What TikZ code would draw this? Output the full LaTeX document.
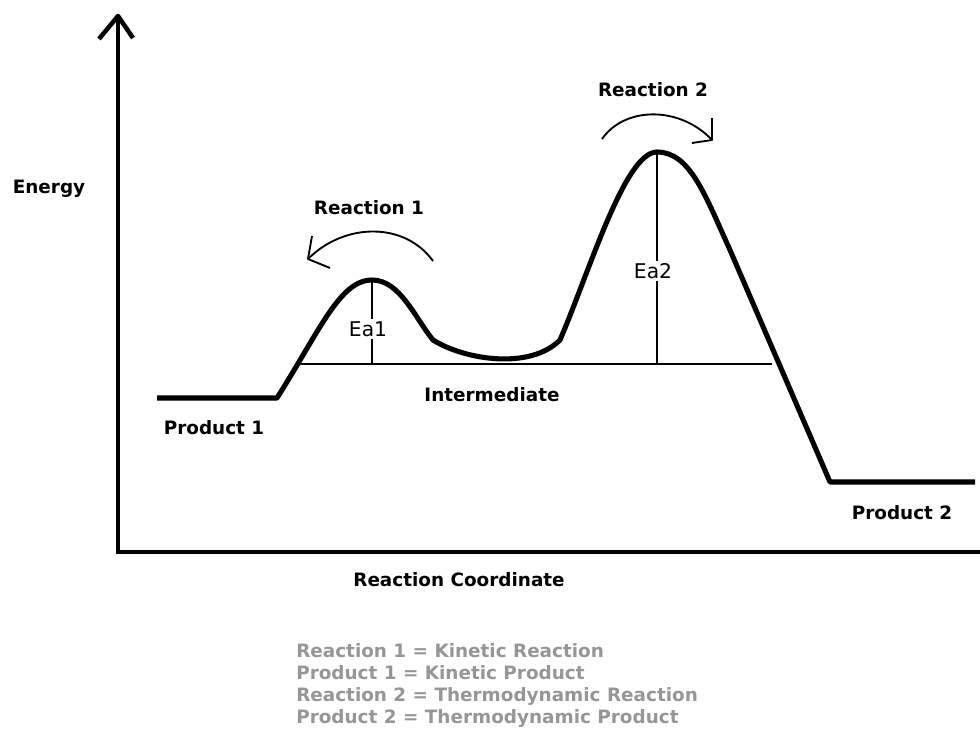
\documentclass[tikz,border=0pt]{standalone}
\usepackage{fontspec}
\setmainfont{DejaVu Sans}
\definecolor{grisleyenda}{RGB}{150,150,150}
\begin{document}
\begin{tikzpicture}[x=0.75pt,y=-0.75pt,line join=round,
	eje/.style={line width=3.4pt},
	curva/.style={line width=3.8pt},
	fina/.style={line width=1.5pt},
	flecha/.style={line width=1.4pt},
	rotulo/.style={font=\fontsize{13.8}{16}\selectfont\bfseries,inner sep=1pt},
	ea/.style={font=\fontsize{15.2}{17}\selectfont,fill=white,inner sep=1.5pt},
	leyenda/.style={rotulo,text=grisleyenda,anchor=west,text height=10pt,text depth=3pt,inner sep=0pt}]
		\useasboundingbox (0,0) rectangle (980,732);
		%Ejes
		\coordinate (origen) at (118,552);
		\coordinate (cima) at (118,16);
		\coordinate (fin) at (980,552);
		\draw[eje,line join=miter] (cima) -- (origen) -- (fin);
		\draw[eje] (99,39) -- (cima) -- (133,38);
		%Perfil
		\coordinate (p1a) at (157,398);
		\coordinate (p1b) at (277,398);
		\coordinate (ts1) at (372,280);
		\coordinate (in1) at (433,340);
		\coordinate (in2) at (560,340);
		\coordinate (ts2) at (657,152);
		\coordinate (bajada) at (730,250);
		\coordinate (p2a) at (830,482);
		\coordinate (p2b) at (975,482);
		\coordinate (base1) at (300,364);
		\coordinate (base2) at (772,364);
		\draw[fina] (base1) -- (base2);
		\draw[fina] (ts1) -- (ts1 |- base1);
		\draw[fina] (ts2) -- (ts2 |- base1);
		\draw[curva] (p1a) -- (p1b) .. controls (320,330) and (340,280) .. (ts1)
		.. controls (400,280) and (415,318) .. (in1)
		.. controls (465,360) and (530,370) .. (in2)
		.. controls (590,270) and (625,152) .. (ts2)
		.. controls (690,152) and (705,195) .. (bajada) -- (p2a) -- (p2b);
		%Flechas
		\coordinate (r1a) at (433,261);
		\coordinate (r1b) at (308,259);
		\draw[flecha] (r1a) .. controls (405,222) and (345,222) .. (r1b);
		\draw[flecha] (312,236) -- (r1b) -- (330,268);
		\coordinate (r2a) at (602,139);
		\coordinate (r2b) at (712,140);
		\draw[flecha] (r2a) .. controls (625,106) and (680,106) .. (r2b);
		\draw[flecha] (712,118) -- (r2b) -- (692,143);
		%Textos
		\node[ea] (ea1) at (368,329) {Ea1};
		\node[ea] (ea2) at (653,271) {Ea2};
		\node[rotulo] (energia) at (49,189) {Energy};
		\node[rotulo] (reac1) at (369,208) {Reaction 1};
		\node[rotulo] (reac2) at (653,90) {Reaction 2};
		\node[rotulo] (inter) at (492,395) {Intermediate};
		\node[rotulo] (prod1) at (214,428) {Product 1};
		\node[rotulo] (prod2) at (902,513) {Product 2};
		\node[rotulo] (coord) at (459,580) {Reaction Coordinate};
		\foreach \texto [count=\i] in {Reaction 1 = Kinetic Reaction,Product 1 = Kinetic Product,Reaction 2 = Thermodynamic Reaction,Product 2 = Thermodynamic Product}
		\node[leyenda] (ley\i) at (296,631+22*\i) {\texto};
\end{tikzpicture}
\end{document}
